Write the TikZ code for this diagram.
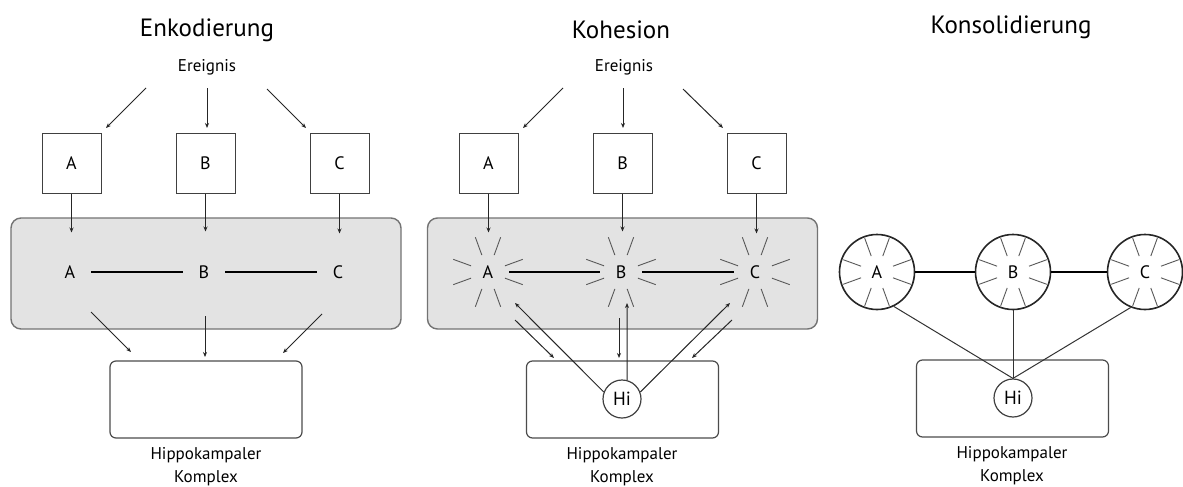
\documentclass[tikz,border=0pt]{standalone}
\usepackage{fontspec}
\setmainfont{PT Sans}
\usetikzlibrary{arrows.meta,calc}
\begin{document}
\begin{tikzpicture}[x=0.5pt,y=-0.5pt,
  every node/.style={font=\fontsize{8.5}{11.5}\selectfont, inner sep=0pt},
  title/.style={font=\fontsize{12.5}{14}\selectfont},
  sbox/.style={draw=black!75, line width=0.5pt, minimum width=29.5pt, minimum height=30pt, font=\fontsize{9}{11}\selectfont},
  area/.style={draw=black!55, fill=black!11, line width=0.7pt, rounded corners=5pt, minimum width=195pt, minimum height=55.5pt},
  hbox/.style={draw=black!70, line width=0.6pt, rounded corners=3pt, minimum width=96pt, minimum height=38.5pt},
  lab/.style={circle, minimum size=21pt, font=\fontsize{9}{11}\selectfont},
  bigc/.style={circle, draw=black!85, line width=0.8pt, minimum size=37.5pt, font=\fontsize{9}{11}\selectfont},
  hi/.style={circle, draw=black!75, line width=0.6pt, minimum size=19pt, fill=white, font=\fontsize{9.5}{11}\selectfont},
  arr/.style={-{Stealth[length=2.5pt,width=2pt]}, line width=0.5pt, draw=black!85},
  link/.style={line width=1pt},
  ray/.style={draw=black!65, line width=0.45pt},
  conn/.style={line width=0.5pt, draw=black!80},
  caption/.style={align=center}
]
\useasboundingbox (0,0) rectangle (1183,487);
\fill[white] (0,0) rectangle (1183,487);

% ===== Panel 1: Enkodierung =====
\node[title] (t1) at (207,30) {Enkodierung};
\node (e1) at (207,67) {Ereignis};
\node[sbox] (a1) at (71.5,163) {A};
\node[sbox] (b1) at (205.5,163) {B};
\node[sbox] (c1) at (339.5,163) {C};
\coordinate (e1l) at (146,88); \coordinate (a1in) at (106,128);
\coordinate (e1m) at (207,88); \coordinate (b1in) at (207,128);
\coordinate (e1r) at (267,89); \coordinate (c1in) at (306,128);
\draw[arr] (e1l) -- (a1in);
\draw[arr] (e1m) -- (b1in);
\draw[arr] (e1r) -- (c1in);
\node[area] (g1) at (206,273.5) {};
\node[lab] (la1) at (70,272) {A};
\node[lab] (lb1) at (204,272) {B};
\node[lab] (lc1) at (338,272) {C};
\draw[arr] (a1.south) -- ++(0,39);
\draw[arr] (b1.south) -- ++(0,38);
\draw[arr] (c1.south) -- ++(0,40);
\draw[link] (la1) -- (lb1);
\draw[link] (lb1) -- (lc1);
\node[hbox] (h1) at (206,399.5) {};
\coordinate (d1a) at (91,312); \coordinate (d1ae) at (131,352);
\coordinate (d1b) at (205,316); \coordinate (d1be) at (205,357);
\coordinate (d1c) at (322,314); \coordinate (d1ce) at (283,353);
\draw[arr] (d1a) -- (d1ae);
\draw[arr] (d1b) -- (d1be);
\draw[arr] (d1c) -- (d1ce);
\node[caption] (k1) at (206,467) {Hippokampaler\\Komplex};

% ===== Panel 2: Kohesion =====
\node[title] (t2) at (621,30) {Kohesion};
\node (e2) at (624,67) {Ereignis};
\node[sbox] (a2) at (488.5,163) {A};
\node[sbox] (b2) at (622.5,163) {B};
\node[sbox] (c2) at (756.5,163) {C};
\coordinate (e2l) at (563,88); \coordinate (a2in) at (523,128);
\coordinate (e2m) at (623,88); \coordinate (b2in) at (623,128);
\coordinate (e2r) at (683,89); \coordinate (c2in) at (723,128);
\draw[arr] (e2l) -- (a2in);
\draw[arr] (e2m) -- (b2in);
\draw[arr] (e2r) -- (c2in);
\node[area] (g2) at (622.5,273.5) {};
\node[lab] (la2) at (488,272) {A};
\node[lab] (lb2) at (621,272) {B};
\node[lab] (lc2) at (755,272) {C};
\foreach \n in {la2,lb2,lc2}{
  \foreach \a in {20,70,110,160,200,250,290,340}{
    \draw[ray] ($(\n)+(\a:18)$) -- ($(\n)+(\a:37)$);
  }
}
\draw[arr] (a2.south) -- ++(0,39);
\draw[arr] (b2.south) -- ++(0,38);
\draw[arr] (c2.south) -- ++(0,40);
\draw[link] (la2) -- (lb2);
\draw[link] (lb2) -- (lc2);
\node[hbox] (h2) at (622.5,399.5) {};
\node[hi] (hi2) at (622,399) {Hi};
\coordinate (u2a) at (515,303);
\coordinate (u2b) at (627,303);
\coordinate (u2c) at (730,303);
\draw[arr] (hi2.159) -- (u2a);
\draw[arr] (hi2.75) -- (u2b);
\draw[arr] (hi2.21) -- (u2c);
\coordinate (d2a) at (515,320); \coordinate (d2ae) at (554,358);
\coordinate (d2b) at (619,318); \coordinate (d2be) at (619,358);
\coordinate (d2c) at (732,320); \coordinate (d2ce) at (692,358);
\draw[arr] (d2a) -- (d2ae);
\draw[arr] (d2b) -- (d2be);
\draw[arr] (d2c) -- (d2ce);
\node[caption] (k2) at (622,467) {Hippokampaler\\Komplex};

% ===== Panel 3: Konsolidierung =====
\node[title] (t3) at (1011,27) {Konsolidierung};
\node[hbox] (h3) at (1012.5,398.5) {};
\node[bigc] (ca3) at (877,272) {A};
\node[bigc] (cb3) at (1013,272) {B};
\node[bigc] (cc3) at (1145,272) {C};
\foreach \n in {ca3,cb3,cc3}{
  \foreach \a in {20,70,110,160,200,250,290,340}{
    \draw[ray] ($(\n)+(\a:17)$) -- ($(\n)+(\a:36)$);
  }
}
\draw[link] (ca3) -- (cb3);
\draw[link] (cb3) -- (cc3);
\node[hi] (hi3) at (1013,398) {Hi};
\draw[conn] (ca3.-64) -- (hi3.north);
\draw[conn] (cb3.south) -- (hi3.north);
\draw[conn] (cc3.-112) -- (hi3.north);
\node[caption] (k3) at (1012,466) {Hippokampaler\\Komplex};
\end{tikzpicture}
\end{document}
